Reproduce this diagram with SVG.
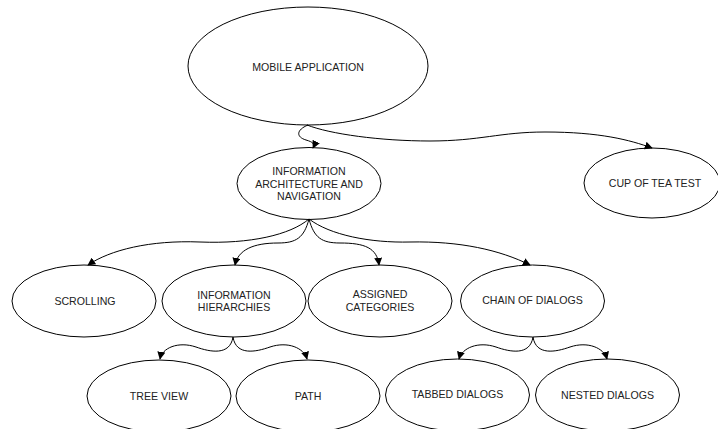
<svg xmlns="http://www.w3.org/2000/svg" width="718" height="429" viewBox="0 0 718 429">
<defs>
<marker id="arr" viewBox="0 0 10 10" refX="9" refY="5" markerWidth="8" markerHeight="8" markerUnits="userSpaceOnUse" orient="auto">
<path d="M0,0 L10,5 L0,10 Z" fill="#000"/>
</marker>
<style>
.n ellipse{fill:#fff;stroke:#000;stroke-width:1}
.n text{font-family:"Liberation Sans",Arial,sans-serif;font-size:10.6px;fill:#222;text-anchor:middle}
.e path{fill:none;stroke:#000;stroke-width:1;marker-end:url(#arr)}
</style>
</defs>
<rect width="718" height="429" fill="#fff"/>
<g id="n-mobile" class="n"><ellipse cx="308" cy="66" rx="120" ry="59"/><text x="308" y="71">MOBILE APPLICATION</text></g>
<g id="n-info" class="n"><ellipse cx="309" cy="183.5" rx="72" ry="36"/><text x="309" y="175">INFORMATION</text><text x="309" y="187.5">ARCHITECTURE AND</text><text x="309" y="200">NAVIGATION</text></g>
<g id="n-cup" class="n"><ellipse cx="652" cy="183" rx="68" ry="35"/><text x="655" y="187">CUP OF TEA TEST</text></g>
<g id="n-scrolling" class="n"><ellipse cx="84" cy="301" rx="72" ry="36"/><text x="85" y="305">SCROLLING</text></g>
<g id="n-hier" class="n"><ellipse cx="234" cy="301" rx="72" ry="36"/><text x="234" y="299">INFORMATION</text><text x="234" y="311">HIERARCHIES</text></g>
<g id="n-assigned" class="n"><ellipse cx="380" cy="301" rx="72" ry="36"/><text x="380" y="298">ASSIGNED</text><text x="380" y="311">CATEGORIES</text></g>
<g id="n-chain" class="n"><ellipse cx="532.5" cy="301" rx="72" ry="36"/><text x="532.5" y="304">CHAIN OF DIALOGS</text></g>
<g id="n-tree" class="n"><ellipse cx="159" cy="396" rx="72" ry="36"/><text x="159" y="400">TREE VIEW</text></g>
<g id="n-path" class="n"><ellipse cx="308" cy="396" rx="72" ry="36"/><text x="308" y="400">PATH</text></g>
<g id="n-tabbed" class="n"><ellipse cx="457.5" cy="395" rx="72" ry="36"/><text x="457.5" y="398">TABBED DIALOGS</text></g>
<g id="n-nested" class="n"><ellipse cx="607.5" cy="395" rx="72" ry="36"/><text x="607.5" y="399">NESTED DIALOGS</text></g>
<g id="connectors" class="e">
<path d="M308,125 C296,130 296,137 306,140 C313,142 315,144 313,148"/>
<path d="M307,125 C330,134 380,141 430,141 C480,141 500,132 545,132 C600,132 630,140 652,148"/>
<path d="M309,219 C290,235 250,244 200,242 C150,240 110,250 88,265"/>
<path d="M309,219 C304,238 296,243 278,243 C253,243 238,250 235,265"/>
<path d="M309,219 C314,238 322,243 340,243 C365,243 377,248 379,265"/>
<path d="M309,219 C330,235 370,243 410,242 C460,241 500,250 530,265"/>
<path d="M233,337 C230,356 210,352 196,347 C178,341 162,348 160,359"/>
<path d="M233,337 C236,356 256,352 270,347 C288,341 304,348 307,359"/>
<path d="M533,337 C530,356 510,352 496,347 C478,341 462,348 459,359"/>
<path d="M533,337 C536,356 556,352 570,347 C588,341 604,348 607,359"/>
</g>
</svg>
